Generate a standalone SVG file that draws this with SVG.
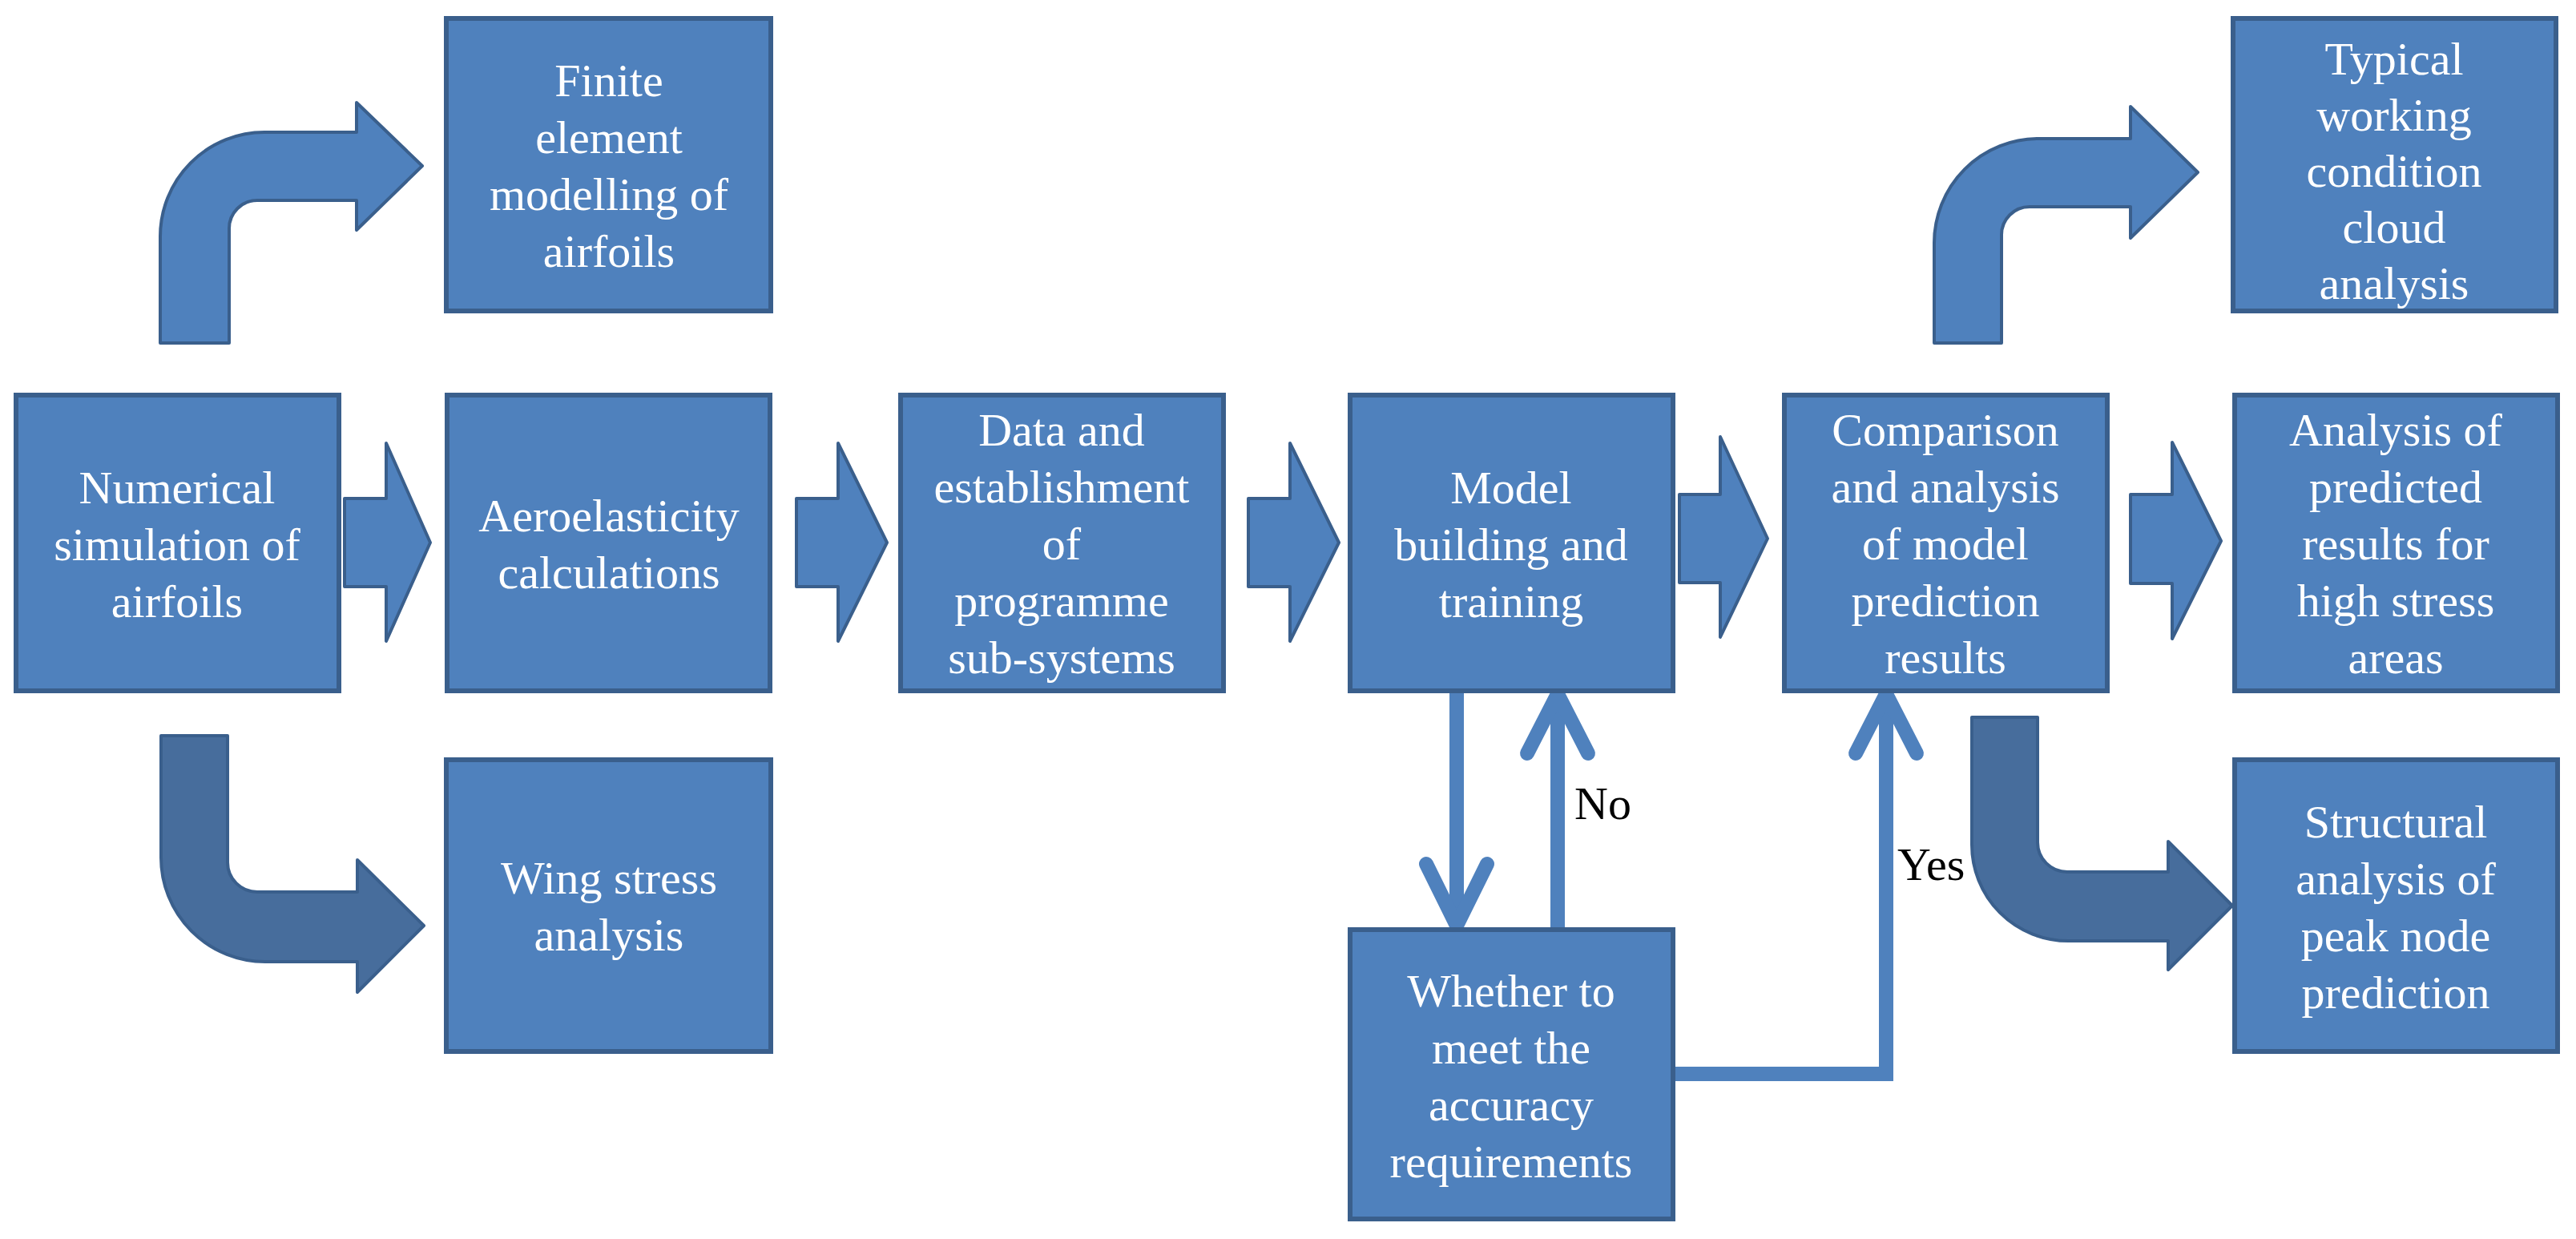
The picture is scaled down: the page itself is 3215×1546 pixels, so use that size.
<svg xmlns="http://www.w3.org/2000/svg" width="3215" height="1546" viewBox="0 0 3215 1546">
<style>
.box{fill:#4f81bd;stroke:#3a5f8c;stroke-width:6}
.t{font-family:"Liberation Serif","Times New Roman",serif;font-size:58px;fill:#fff;text-anchor:middle}
.lbl{font-family:"Liberation Serif","Times New Roman",serif;font-size:58px;fill:#000}
.blk{fill:#4f81bd;stroke:#3a5f8c;stroke-width:4;stroke-linejoin:round}
.dk{fill:#476d9c;stroke:#3a5f8c;stroke-width:4;stroke-linejoin:round}
.ln{fill:none;stroke:#4f81bd;stroke-width:18;stroke-linejoin:miter}
.hd{fill:none;stroke:#4f81bd;stroke-width:18;stroke-linecap:round;stroke-linejoin:miter}
</style>
<rect width="3215" height="1546" fill="#fff"/>
<g id="connectors">
<path class="blk" d="M200,428 L200,295 A130,130 0 0 1 330,165 L445,165 L445,128 L527,207 L445,287 L445,250 L321,250 A35,35 0 0 0 286,285 L286,428 Z"/>
<path class="blk" d="M2414,428 L2414,303 A130,130 0 0 1 2544,173 L2659,173 L2659,133 L2743,215 L2659,297 L2659,258 L2533,258 A35,35 0 0 0 2498,293 L2498,428 Z"/>
<path class="dk" d="M201,918 L284,918 L284,1076 A37,37 0 0 0 321,1113 L446,1113 L446,1073 L529,1155 L446,1238 L446,1200 L331,1200 A130,130 0 0 1 201,1070 Z"/>
<path class="dk" d="M2461,895 L2543,895 L2543,1051 A37,37 0 0 0 2580,1088 L2706,1088 L2706,1050 L2786,1130 L2706,1210 L2706,1174 L2581,1174 A120,120 0 0 1 2461,1054 Z"/>
<path class="blk" d="M430,622 L482,622 L482,553 L537,677 L482,800 L482,732 L430,732 Z"/>
<path class="blk" d="M994,622 L1046,622 L1046,553 L1107,677 L1046,800 L1046,732 L994,732 Z"/>
<path class="blk" d="M1558,622 L1610,622 L1610,553 L1671,677 L1610,800 L1610,732 L1558,732 Z"/>
<path class="blk" d="M2096,617 L2147,617 L2147,545 L2206,672 L2147,795 L2147,727 L2096,727 Z"/>
<path class="blk" d="M2659,617 L2711,617 L2711,552 L2772,675 L2711,797 L2711,728 L2659,728 Z"/>
<line class="ln" x1="1818" y1="862" x2="1818" y2="1150"/>
<polyline class="hd" points="1780,1078 1818,1155 1856,1078"/>
<line class="ln" x1="1944" y1="1160" x2="1944" y2="872"/>
<polyline class="hd" points="1906,940 1944,866 1982,940"/>
<polyline class="ln" points="2090,1340 2354,1340 2354,872"/>
<polyline class="hd" points="2316,940 2354,866 2392,940"/>
<text class="lbl" x="1965" y="1022">No</text>
<text class="lbl" x="2368" y="1098">Yes</text>
</g>
<g id="finite"><rect class="box" x="557" y="23" width="405" height="365"/>
<text class="t" x="760" y="120">Finite</text><text class="t" x="760" y="191">element</text><text class="t" x="760" y="262">modelling of</text><text class="t" x="760" y="333">airfoils</text></g>
<g id="typical"><rect class="box" x="2787" y="23" width="403" height="365"/>
<text class="t" x="2988" y="93">Typical</text><text class="t" x="2988" y="163">working</text><text class="t" x="2988" y="233">condition</text><text class="t" x="2988" y="303">cloud</text><text class="t" x="2988" y="373">analysis</text></g>
<g id="numerical"><rect class="box" x="20" y="493" width="403" height="369"/>
<text class="t" x="221" y="628">Numerical</text><text class="t" x="221" y="699">simulation of</text><text class="t" x="221" y="770">airfoils</text></g>
<g id="aero"><rect class="box" x="558" y="493" width="403" height="369"/>
<text class="t" x="760" y="663">Aeroelasticity</text><text class="t" x="760" y="734">calculations</text></g>
<g id="data"><rect class="box" x="1124" y="493" width="403" height="369"/>
<text class="t" x="1325" y="556">Data and</text><text class="t" x="1325" y="627">establishment</text><text class="t" x="1325" y="698">of</text><text class="t" x="1325" y="769">programme</text><text class="t" x="1325" y="840">sub-systems</text></g>
<g id="model"><rect class="box" x="1685" y="493" width="403" height="369"/>
<text class="t" x="1886" y="628">Model</text><text class="t" x="1886" y="699">building and</text><text class="t" x="1886" y="770">training</text></g>
<g id="comparison"><rect class="box" x="2227" y="493" width="403" height="369"/>
<text class="t" x="2428" y="556">Comparison</text><text class="t" x="2428" y="627">and analysis</text><text class="t" x="2428" y="698">of model</text><text class="t" x="2428" y="769">prediction</text><text class="t" x="2428" y="840">results</text></g>
<g id="analysis"><rect class="box" x="2789" y="493" width="403" height="369"/>
<text class="t" x="2990" y="556">Analysis of</text><text class="t" x="2990" y="627">predicted</text><text class="t" x="2990" y="698">results for</text><text class="t" x="2990" y="769">high stress</text><text class="t" x="2990" y="840">areas</text></g>
<g id="wing"><rect class="box" x="557" y="948" width="405" height="364"/>
<text class="t" x="760" y="1115">Wing stress</text><text class="t" x="760" y="1186">analysis</text></g>
<g id="structural"><rect class="box" x="2789" y="948" width="403" height="364"/>
<text class="t" x="2990" y="1045">Structural</text><text class="t" x="2990" y="1116">analysis of</text><text class="t" x="2990" y="1187">peak node</text><text class="t" x="2990" y="1258">prediction</text></g>
<g id="whether"><rect class="box" x="1685" y="1160" width="403" height="361"/>
<text class="t" x="1886" y="1256">Whether to</text><text class="t" x="1886" y="1327">meet the</text><text class="t" x="1886" y="1398">accuracy</text><text class="t" x="1886" y="1469">requirements</text></g>
</svg>
